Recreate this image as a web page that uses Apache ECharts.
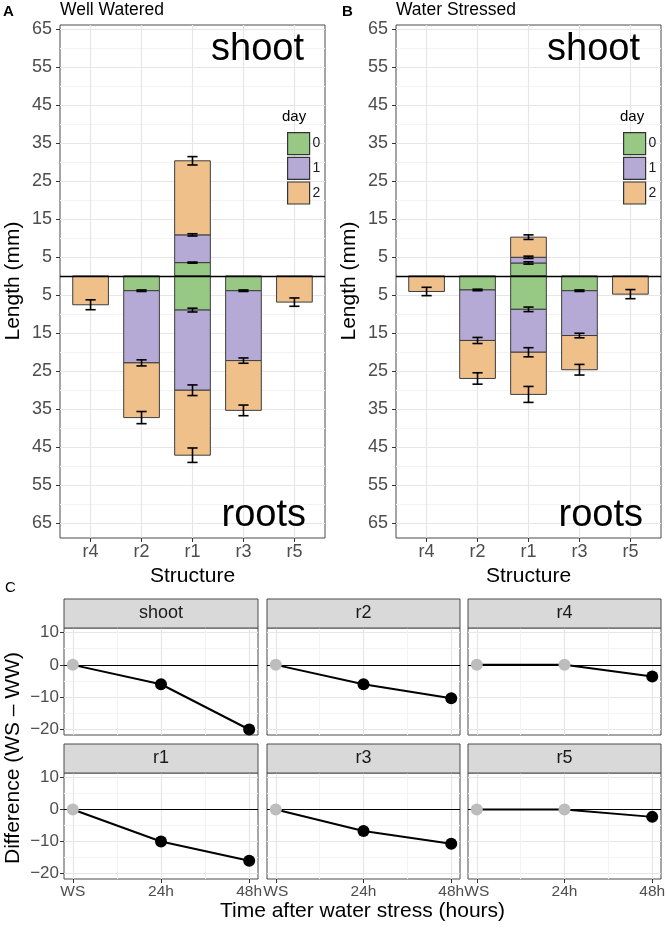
<!DOCTYPE html>
<html><head><meta charset="utf-8">
<script src="https://cdn.jsdelivr.net/npm/echarts@6/dist/echarts.min.js"></script>
<style>html,body{margin:0;padding:0;background:#fff;}#c{width:666px;height:928px;}</style>
</head><body><div id="c"></div>
<script>
const FONT = "'Liberation Sans', Arial, Helvetica, sans-serif";

// ---------- Panels A / B data ----------
const structures = ['r4', 'r2', 'r1', 'r3', 'r5'];
const structurePos = [1, 2, 3, 4, 5];
const days = ['0', '1', '2'];
const dayColors = ['#97c984', '#b5a9d5', '#f0c08b'];

// cumulative lengths (mm) at the end of each day, Well Watered
const wwShootDay0 = [0, 0, 3.5, 0, 0];
const wwShootDay1 = [0, 0, 10.8, 0, 0];
const wwShootDay2 = [0, 0, 30.3, 0, 0];
const wwShootErr0 = [0, 0, 0.15, 0, 0];
const wwShootErr1 = [0, 0, 0.3, 0, 0];
const wwShootErr2 = [0, 0, 1.1, 0, 0];
const wwRootDay0 = [0, 3.9, 9.0, 3.9, 0];
const wwRootDay1 = [0, 22.9, 30.1, 22.3, 0];
const wwRootDay2 = [7.6, 37.3, 47.2, 35.4, 6.9];
const wwRootErr0 = [0, 0.2, 0.5, 0.2, 0];
const wwRootErr1 = [0, 0.8, 1.4, 0.7, 0];
const wwRootErr2 = [1.3, 1.6, 1.9, 1.4, 1.1];

// Water Stressed
const wsShootDay0 = [0, 0, 3.4, 0, 0];
const wsShootDay1 = [0, 0, 4.9, 0, 0];
const wsShootDay2 = [0, 0, 10.2, 0, 0];
const wsShootErr0 = [0, 0, 0.3, 0, 0];
const wsShootErr1 = [0, 0, 0.3, 0, 0];
const wsShootErr2 = [0, 0, 0.6, 0, 0];
const wsRootDay0 = [0, 3.7, 8.8, 3.9, 0];
const wsRootDay1 = [0, 17.0, 20.1, 15.7, 0];
const wsRootDay2 = [4.1, 27.0, 31.2, 24.7, 4.8];
const wsRootErr0 = [0, 0.2, 0.6, 0.2, 0];
const wsRootErr1 = [0, 0.8, 1.2, 0.6, 0];
const wsRootErr2 = [1.1, 1.5, 2.1, 1.4, 1.2];

const lengthTicks = [-65, -55, -45, -35, -25, -15, -5, 5, 15, 25, 35, 45, 55, 65];
const lengthMinor = [-60, -50, -40, -30, -20, -10, 0, 10, 20, 30, 40, 50, 60];

// ---------- Panel C data ----------
const facetNames = ['shoot', 'r2', 'r4', 'r1', 'r3', 'r5'];
const timeValues = [0, 24, 48];
const timeLabels = ['WS', '24h', '48h'];
const timeMinor = [12, 36];
const diffTicks = [-20, -10, 0, 10];
const diffMinor = [-15, -5, 5];
const diffShoot = [0, -6.0, -20.0];
const diffR2 = [0, -6.0, -10.3];
const diffR4 = [0, 0, -3.6];
const diffR1 = [0, -10.0, -16.0];
const diffR3 = [0, -6.7, -10.7];
const diffR5 = [0, 0, -2.3];
const sigShoot = [0, 1, 1];
const sigR2 = [0, 1, 1];
const sigR4 = [0, 0, 1];
const sigR1 = [0, 1, 1];
const sigR3 = [0, 1, 1];
const sigR5 = [0, 0, 1];

// ---------- helpers ----------
const BAR_HALF = 0.35, CAP_HALF = 0.1;
const MAJOR = '#e6e6e6', MINOR = '#f3f3f3', BORDER = '#4a4a4a', TICKC = '#333', LABELC = '#4d4d4d';

function renderBar(params, api) {
  const x = api.value(0), y0 = api.value(1), y1 = api.value(2);
  const a = api.coord([x - BAR_HALF, y0]);
  const b = api.coord([x + BAR_HALF, y1]);
  return {type: 'rect', shape: {x: Math.min(a[0], b[0]), y: Math.min(a[1], b[1]),
    width: Math.abs(b[0] - a[0]), height: Math.abs(b[1] - a[1])},
    style: {fill: api.visual('color'), stroke: '#3d3d3d', lineWidth: 1}};
}
function renderErr(params, api) {
  const x = api.value(0), c = api.value(1), e = api.value(2);
  const top = api.coord([x, c + e]), bot = api.coord([x, c - e]);
  const l = api.coord([x - CAP_HALF, c])[0], r = api.coord([x + CAP_HALF, c])[0];
  const st = {stroke: '#000', lineWidth: 1.6};
  return {type: 'group', children: [
    {type: 'line', shape: {x1: top[0], y1: top[1], x2: bot[0], y2: bot[1]}, style: st},
    {type: 'line', shape: {x1: l, y1: top[1], x2: r, y2: top[1]}, style: st},
    {type: 'line', shape: {x1: l, y1: bot[1], x2: r, y2: bot[1]}, style: st}
  ]};
}

function stackItems(shootCum, rootCum) {
  const out = [];
  for (let d = 0; d < 3; d++) {
    const items = [];
    for (let i = 0; i < structures.length; i++) {
      const sPrev = d === 0 ? 0 : shootCum[d - 1][i];
      const rPrev = d === 0 ? 0 : rootCum[d - 1][i];
      if (shootCum[d][i] > sPrev) items.push([structurePos[i], sPrev, shootCum[d][i]]);
      if (rootCum[d][i] > rPrev) items.push([structurePos[i], -rPrev, -rootCum[d][i]]);
    }
    out.push(items);
  }
  return out;
}
function errItems(shootCum, shootErr, rootCum, rootErr) {
  const items = [];
  for (let d = 0; d < 3; d++) {
    for (let i = 0; i < structures.length; i++) {
      if (shootCum[d][i] > 0 && shootErr[d][i] > 0) items.push([structurePos[i], shootCum[d][i], shootErr[d][i]]);
      if (rootCum[d][i] > 0 && rootErr[d][i] > 0) items.push([structurePos[i], -rootCum[d][i], rootErr[d][i]]);
    }
  }
  return items;
}

const panels = [
  {left: 60, shoot: [wwShootDay0, wwShootDay1, wwShootDay2], shootErr: [wwShootErr0, wwShootErr1, wwShootErr2],
   root: [wwRootDay0, wwRootDay1, wwRootDay2], rootErr: [wwRootErr0, wwRootErr1, wwRootErr2]},
  {left: 396, shoot: [wsShootDay0, wsShootDay1, wsShootDay2], shootErr: [wsShootErr0, wsShootErr1, wsShootErr2],
   root: [wsRootDay0, wsRootDay1, wsRootDay2], rootErr: [wsRootErr0, wsRootErr1, wsRootErr2]}
];

const grid = [], xAxis = [], yAxis = [], series = [], graphic = [], legend = [];
const noLine = {show: false, onZero: false};

panels.forEach((p, k) => {
  grid.push({left: p.left, top: 25, width: 265, height: 513, show: true, borderColor: BORDER, borderWidth: 1,
    backgroundColor: '#fff', outerBoundsMode: 'none', containLabel: false});
  const xi = xAxis.length;
  xAxis.push({gridIndex: k, type: 'value', min: 0.4, max: 5.6, axisLine: noLine,
    axisTick: {show: true, length: 4, customValues: structurePos, lineStyle: {color: TICKC, width: 1}},
    axisLabel: {customValues: structurePos, formatter: v => structures[Math.round(v) - 1], fontSize: 18,
      color: LABELC, fontFamily: FONT, margin: 5},
    splitLine: {show: true, lineStyle: {color: MAJOR, width: 1.2}}});
  const yi = yAxis.length;
  yAxis.push({gridIndex: k, type: 'value', min: -69, max: 66.05, axisLine: noLine,
    axisTick: {show: true, length: 4, customValues: lengthTicks, lineStyle: {color: TICKC, width: 1}},
    axisLabel: {customValues: lengthTicks, formatter: v => String(Math.abs(v)), fontSize: 18,
      color: LABELC, fontFamily: FONT, margin: 8},
    splitLine: {show: true, lineStyle: {color: MAJOR, width: 1.2}}});
  yAxis.push({gridIndex: k, type: 'value', min: -69, max: 66.05, axisLine: noLine,
    axisTick: {show: false, customValues: lengthMinor}, axisLabel: {show: false},
    splitLine: {show: true, lineStyle: {color: MINOR, width: 1}}});

  series.push({type: 'line', xAxisIndex: xi, yAxisIndex: yi, data: [], z: 1, silent: true,
    markLine: {silent: true, symbol: ['none', 'none'], animation: false, label: {show: false},
      lineStyle: {color: '#000', width: 1.3, type: 'solid'}, data: [{yAxis: 0}]}});
  const segs = stackItems(p.shoot, p.root);
  segs.forEach((items, d) => {
    series.push({type: 'custom', name: days[d], xAxisIndex: xi, yAxisIndex: yi, z: 3,
      itemStyle: {color: dayColors[d], borderColor: '#333', borderWidth: 1},
      renderItem: renderBar, encode: {x: 0, y: [1, 2]}, data: items});
  });
  series.push({type: 'custom', name: 'err' + k, xAxisIndex: xi, yAxisIndex: yi, z: 4,
    renderItem: renderErr, encode: {x: 0, y: 1}, data: errItems(p.shoot, p.shootErr, p.root, p.rootErr)});

  legend.push({data: days, left: p.left + 222, top: 127, orient: 'vertical', itemWidth: 22, itemHeight: 22,
    itemGap: 1.5, icon: 'rect', selectedMode: false,
    itemStyle: {borderColor: '#333', borderWidth: 1.2},
    textStyle: {fontSize: 14, color: '#1a1a1a', fontFamily: FONT, padding: [0, 0, 0, -2]}});
});

// ---------- Panel C ----------
const facetDiffs = [diffShoot, diffR2, diffR4, diffR1, diffR3, diffR5];
const facetSig = [sigShoot, sigR2, sigR4, sigR1, sigR3, sigR5];
const colLeft = [64, 267, 468];
const colWidth = [194, 193, 193];
const rowTop = [628, 773];
const rowH = [107, 106];
const stripH = 29;

facetNames.forEach((name, f) => {
  const col = f % 3, row = Math.floor(f / 3);
  const gi = grid.length;
  grid.push({left: colLeft[col], top: rowTop[row], width: colWidth[col], height: rowH[row], show: true,
    borderColor: BORDER, borderWidth: 1, backgroundColor: '#fff', outerBoundsMode: 'none', containLabel: false});
  const bottomRow = row === 1, firstCol = col === 0;
  const xi = xAxis.length;
  xAxis.push({gridIndex: gi, type: 'value', min: -2.4, max: 50.4, axisLine: noLine,
    axisTick: {show: bottomRow, length: 4, customValues: timeValues, lineStyle: {color: TICKC}},
    axisLabel: {show: bottomRow, customValues: timeValues,
      formatter: v => timeLabels[timeValues.indexOf(v)], fontSize: 15.5, color: LABELC, fontFamily: FONT, margin: 5},
    splitLine: {show: true, lineStyle: {color: MAJOR, width: 1.2}}});
  xAxis.push({gridIndex: gi, type: 'value', min: -2.4, max: 50.4, axisLine: noLine,
    axisTick: {show: false, customValues: timeMinor}, axisLabel: {show: false},
    splitLine: {show: true, lineStyle: {color: MINOR, width: 1}}});
  const yi = yAxis.length;
  yAxis.push({gridIndex: gi, type: 'value', min: -21.7, max: 11.4, axisLine: noLine,
    axisTick: {show: firstCol, length: 4, customValues: diffTicks, lineStyle: {color: TICKC}},
    axisLabel: {show: firstCol, customValues: diffTicks,
      formatter: v => (v < 0 ? '\u2212' + Math.abs(v) : String(v)), fontSize: 17, color: LABELC, fontFamily: FONT, margin: 5},
    splitLine: {show: true, lineStyle: {color: MAJOR, width: 1.2}}});
  yAxis.push({gridIndex: gi, type: 'value', min: -21.7, max: 11.4, axisLine: noLine,
    axisTick: {show: false, customValues: diffMinor}, axisLabel: {show: false},
    splitLine: {show: true, lineStyle: {color: MINOR, width: 1}}});

  const vals = facetDiffs[f], sig = facetSig[f];
  series.push({type: 'line', xAxisIndex: xi, yAxisIndex: yi, z: 3, silent: true,
    symbol: 'circle', symbolSize: 12, showAllSymbol: true,
    lineStyle: {color: '#000', width: 2},
    data: timeValues.map((t, i) => ({value: [t, vals[i]],
      itemStyle: {color: sig[i] ? '#000' : '#bdbdbd', borderWidth: 0}})),
    markLine: {silent: true, symbol: ['none', 'none'], animation: false, label: {show: false}, z: 2,
      lineStyle: {color: '#000', width: 1.2, type: 'solid'}, data: [{yAxis: 0}]}});

  graphic.push({type: 'rect', silent: true, z: 10,
    shape: {x: colLeft[col], y: rowTop[row] - stripH, width: colWidth[col], height: stripH},
    style: {fill: '#d9d9d9', stroke: BORDER, lineWidth: 1}});
  graphic.push({type: 'text', silent: true, z: 11, x: colLeft[col] + colWidth[col] / 2, y: rowTop[row] - stripH / 2,
    style: {text: name, fill: '#1a1a1a', font: '18px ' + FONT, align: 'center', verticalAlign: 'middle'}});
});

// ---------- text annotations ----------
function txt(t, x, y, size, opts) {
  opts = opts || {};
  graphic.push({type: 'text', silent: true, z: 12, x: x, y: y, rotation: opts.rot || 0,
    style: {text: t, fill: opts.color || '#000', font: (opts.bold ? 'bold ' : '') + size + 'px ' + FONT,
      align: opts.align || 'left', verticalAlign: 'middle'}});
}
txt('A', 3, 11.5, 15, {bold: true});
txt('Well Watered', 60, 10.5, 17.5);
txt('B', 342, 11.5, 15, {bold: true});
txt('Water Stressed', 396, 10.5, 17.5);
txt('shoot', 304, 50, 38, {align: 'right'});
txt('roots', 306, 516, 38, {align: 'right'});
txt('shoot', 640, 50, 38, {align: 'right'});
txt('roots', 643, 516, 38, {align: 'right'});
txt('day', 282, 117, 15);
txt('day', 620, 117, 15);
txt('Length (mm)', 13, 281, 21, {align: 'center', rot: Math.PI / 2});
txt('Length (mm)', 349, 281, 21, {align: 'center', rot: Math.PI / 2});
txt('Structure', 192.5, 576, 21, {align: 'center'});
txt('Structure', 528.5, 576, 21, {align: 'center'});
txt('C', 5, 588, 15);
txt('Difference (WS \u2013 WW)', 13, 758, 21, {align: 'center', rot: Math.PI / 2});
txt('Time after water stress (hours)', 362.5, 911, 21, {align: 'center'});

const chart = echarts.init(document.getElementById('c'), null, {renderer: 'canvas'});
chart.setOption({
  animation: false,
  backgroundColor: '#fff',
  textStyle: {fontFamily: FONT},
  grid, xAxis, yAxis, series, legend, graphic,
  tooltip: {show: false}
});
</script></body></html>
